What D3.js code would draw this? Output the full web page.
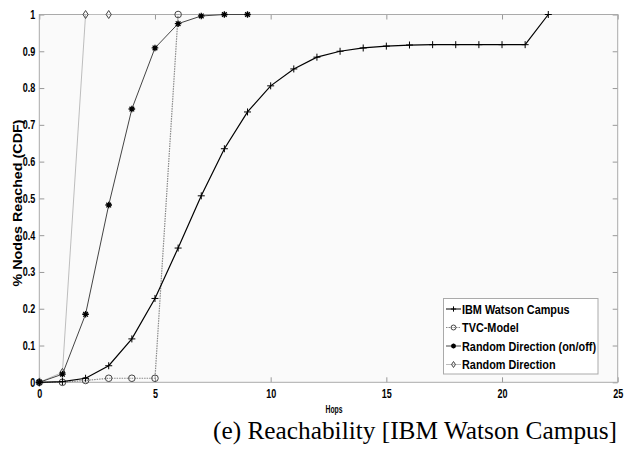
<!DOCTYPE html>
<html><head><meta charset="utf-8">
<script src="https://cdn.jsdelivr.net/npm/d3@7"></script>
<style>
body{margin:0;background:#fff;}
svg{display:block;}
.tk{font-family:"Liberation Sans",Arial,sans-serif;font-weight:bold;font-size:12px;fill:#000;}
</style></head>
<body>
<svg id="c" width="633" height="449"></svg>
<script>
const hops = d3.range(0, 23);
const ibmWatson = [0,0.002,0.011,0.045,0.118,0.228,0.365,0.507,0.635,0.735,0.806,0.852,0.884,0.9,0.909,0.914,0.917,0.918,0.918,0.918,0.918,0.918,1.0];
const tvcHops = [0,1,2,3,4,5,6];
const tvcModel = [0,0,0.005,0.011,0.011,0.011,1.0];
const rdOnOffHops = [0,1,2,3,4,5,6,7,8,9];
const rdOnOff = [0,0.022,0.185,0.482,0.743,0.909,0.975,0.996,1.0,1.0];
const rdHops = [0,1,2,3];
const rd = [0,0.027,1.0,1.0];
const xTicks = [0,5,10,15,20,25];
const yTicks = [0,0.1,0.2,0.3,0.4,0.5,0.6,0.7,0.8,0.9,1];
const yTickLabels = ["0","0.1","0.2","0.3","0.4","0.5","0.6","0.7","0.8","0.9","1"];
const legendLabels = ["IBM Watson Campus","TVC-Model","Random Direction (on/off)","Random Direction"];

const svg = d3.select("#c");
const L=39.3, R=617.7, T=14.5, B=382.3;
const x = d3.scaleLinear().domain([0,25]).range([L,R]);
const y = d3.scaleLinear().domain([0,1]).range([B,T]);

function condense(sel, f){
  sel.each(function(){
    const n=this.getComputedTextLength();
    d3.select(this).attr("textLength",n*f).attr("lengthAdjust","spacingAndGlyphs");
  });
}

svg.append("rect").attr("x",L).attr("y",T).attr("width",R-L).attr("height",B-T).attr("fill","#fafafa");

const tickCol="#999";
const gx = svg.append("g").attr("transform",`translate(0,${B})`)
  .call(d3.axisBottom(x).tickValues(xTicks).tickSize(-5).tickPadding(7).tickFormat(d3.format("d")));
const gxt = svg.append("g").attr("transform",`translate(0,${T})`)
  .call(d3.axisTop(x).tickValues(xTicks).tickSize(-5).tickFormat(""));
const gy = svg.append("g").attr("transform",`translate(${L},0)`)
  .call(d3.axisLeft(y).tickValues(yTicks).tickSize(-5).tickPadding(4).tickFormat((d,i)=>yTickLabels[i]));
const gyr = svg.append("g").attr("transform",`translate(${R},0)`)
  .call(d3.axisRight(y).tickValues(yTicks).tickSize(-5).tickFormat(""));
[gx,gxt,gy,gyr].forEach(g=>{
  g.select(".domain").remove();
  g.selectAll("line").attr("stroke",tickCol);
  g.selectAll("text").attr("class","tk").attr("fill","#000").attr("font-size",null).attr("font-family",null);
});
condense(gx.selectAll("text"),0.75);
condense(gy.selectAll("text"),0.75);
svg.append("rect").attr("x",L).attr("y",T).attr("width",R-L).attr("height",B-T)
  .attr("fill","none").attr("stroke","#aaa").attr("stroke-width",1);

const line = d3.line().x(d=>x(d[0])).y(d=>y(d[1]));

const series = [
  {name:legendLabels[3], xs:rdHops, ys:rd, color:"#bdbdbd", w:1, dash:null, marker:"diamond", mcol:"#444"},
  {name:legendLabels[1], xs:tvcHops, ys:tvcModel, color:"#888", w:1.2, dash:"1.5,1", marker:"circle", mcol:"#444"},
  {name:legendLabels[2], xs:rdOnOffHops, ys:rdOnOff, color:"#444", w:1, dash:null, marker:"star", mcol:"#000"},
  {name:legendLabels[0], xs:hops, ys:ibmWatson, color:"#000", w:1.2, dash:null, marker:"plus", mcol:"#000"}
];

function drawMarker(g, type, cx, cy, col, s){
  s = s||1;
  if(type==="plus"){
    g.append("path").attr("d",`M${cx-3.5*s},${cy}H${cx+3.5*s}M${cx},${cy-3.5*s}V${cy+3.5*s}`).attr("stroke",col).attr("stroke-width",1);
  } else if(type==="circle"){
    g.append("circle").attr("cx",cx).attr("cy",cy).attr("r",3.3*s).attr("fill","none").attr("stroke",col).attr("stroke-width",1);
  } else if(type==="diamond"){
    g.append("path").attr("d",`M${cx},${cy-4*s}L${cx+2.6*s},${cy}L${cx},${cy+4*s}L${cx-2.6*s},${cy}Z`).attr("fill","none").attr("stroke",col).attr("stroke-width",1);
  } else if(type==="star"){
    const r=3.3*s;
    let d="";
    for(let k=0;k<4;k++){const a=k*Math.PI/4;d+=`M${cx-r*Math.cos(a)},${cy-r*Math.sin(a)}L${cx+r*Math.cos(a)},${cy+r*Math.sin(a)}`;}
    g.append("path").attr("d",d).attr("stroke",col).attr("stroke-width",1.3);
    g.append("circle").attr("cx",cx).attr("cy",cy).attr("r",1.8*s).attr("fill",col);
  }
}

series.forEach(s=>{
  const pts = s.xs.map((v,i)=>[v,s.ys[i]]);
  const p = svg.append("path").datum(pts).attr("d",line).attr("fill","none")
    .attr("stroke",s.color).attr("stroke-width",s.w);
  if(s.dash) p.attr("stroke-dasharray",s.dash);
  const g = svg.append("g");
  pts.forEach(d=>drawMarker(g,s.marker,x(d[0]),y(d[1]),s.mcol));
});

// legend
const lg = svg.append("g");
lg.append("rect").attr("x",443.5).attr("y",298.5).attr("width",154.5).attr("height",75.5)
  .attr("fill","#fff").attr("stroke","#aaa");
const legOrder = [series[3],series[1],series[2],series[0]];
const rowsY=[309,327.5,346,364.5];
const legTexts=[];
legOrder.forEach((s,i)=>{
  const yy=rowsY[i];
  const l=lg.append("line").attr("x1",446).attr("x2",461).attr("y1",yy).attr("y2",yy).attr("stroke",s.color).attr("stroke-width",1);
  if(s.dash) l.attr("stroke-dasharray",s.dash);
  drawMarker(lg,s.marker,453.5,yy,s.mcol,0.75);
  legTexts.push(lg.append("text").attr("class","tk").attr("x",462).attr("y",yy+4.5).text(s.name));
});
const longest = legTexts[2].node().getComputedTextLength();
const lf = 134/longest;
legTexts.forEach(t=>condense(t,lf));

svg.append("text").attr("class","tk").style("font-size","10px").attr("x",334).attr("y",413)
  .attr("text-anchor","middle").attr("textLength",17).attr("lengthAdjust","spacingAndGlyphs").text("Hops");
svg.append("text").attr("class","tk").style("font-size","13.5px")
  .attr("transform","translate(22,203) rotate(-90)").attr("text-anchor","middle")
  .attr("textLength",167).attr("lengthAdjust","spacingAndGlyphs").text("% Nodes Reached (CDF)");
svg.append("text").attr("x",617).attr("y",439).attr("text-anchor","end")
  .attr("font-family","'Liberation Serif','Times New Roman',serif").attr("font-size","25px").attr("fill","#000")
  .attr("textLength",404).attr("lengthAdjust","spacingAndGlyphs")
  .text("(e) Reachability [IBM Watson Campus]");
</script>
</body></html>
